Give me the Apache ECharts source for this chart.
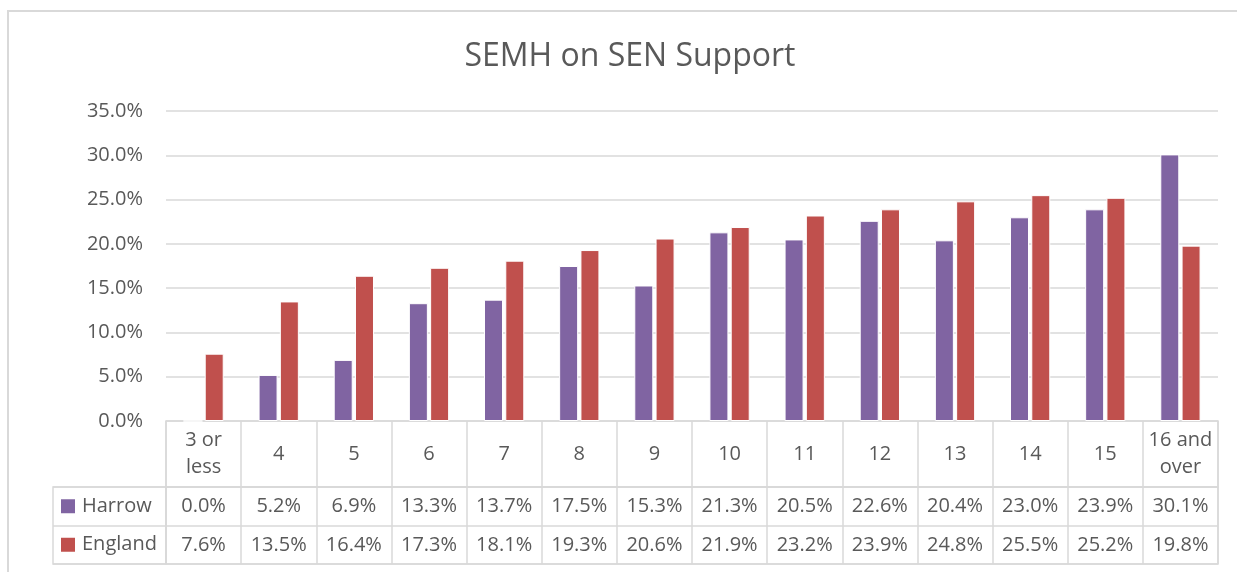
<!DOCTYPE html>
<html><head><meta charset="utf-8">
<script src="https://cdn.jsdelivr.net/npm/echarts@6/dist/echarts.min.js"></script>
<style>html,body{margin:0;padding:0;background:#fff}#c{width:1237px;height:572px}</style>
</head><body><div id="c"></div>
<script>
const categories = ['3 or\nless','4','5','6','7','8','9','10','11','12','13','14','15','16 and\nover'];
const seriesNames = ['Harrow','England'];
const harrow = [0.0,5.2,6.9,13.3,13.7,17.5,15.3,21.3,20.5,22.6,20.4,23.0,23.9,30.1];
const england = [7.6,13.5,16.4,17.3,18.1,19.3,20.6,21.9,23.2,23.9,24.8,25.5,25.2,19.8];
const yMin = 0, yMax = 35, yStep = 5;

const colors = {Harrow:'#8064A2', England:'#C0504D'};
const txt = '#595959', line = '#d9d9d9', ff = 'Open Sans';
const fs = 20;
const pct = v => v.toFixed(1) + '%';
const L = 166, R = 19;
const tableLine = {show:true, lineStyle:{color:line, width:1.5}};
const none = {show:false};

const chart = echarts.init(document.getElementById('c'));
chart.setOption({
  animation:false,
  textStyle:{fontFamily:ff},
  title:{text:'SEMH on SEN Support', left:625, textAlign:'center', top:36,
    textStyle:{fontFamily:ff, fontSize:32, fontWeight:'normal', color:txt}},
  graphic:[{type:'rect', z:-10, shape:{x:8, y:11, width:1260, height:620},
    style:{fill:'none', stroke:line, lineWidth:2}}],
  grid:[
    {left:L, right:R, top:111, height:310},
    {left:L, right:R, top:421, height:66, show:true, borderColor:line, borderWidth:1.5},
    {left:L, right:R, top:487, height:77, show:true, borderColor:line, borderWidth:1.5},
    {left:53, width:113, top:487, height:77, show:true, borderColor:line, borderWidth:1.5}
  ],
  xAxis:[
    {gridIndex:0, type:'category', data:categories, show:false},
    {gridIndex:1, type:'category', data:categories, position:'bottom',
      axisLine:none, axisTick:none, splitLine:tableLine,
      axisLabel:{interval:0, margin:-33, verticalAlign:'middle', fontSize:fs, lineHeight:27, color:txt, fontFamily:ff}},
    {gridIndex:2, type:'category', data:categories, position:'top',
      axisLine:none, axisTick:none, splitLine:tableLine,
      axisLabel:{interval:0, margin:-19.5, verticalAlign:'middle', fontSize:fs, color:txt, fontFamily:ff,
        formatter:(v,i)=>pct(harrow[i])}},
    {gridIndex:2, type:'category', data:categories, position:'bottom',
      axisLine:none, axisTick:none, splitLine:none,
      axisLabel:{interval:0, margin:-19, verticalAlign:'middle', fontSize:fs, color:txt, fontFamily:ff,
        formatter:(v,i)=>pct(england[i])}},
    {gridIndex:3, type:'value', show:false}
  ],
  yAxis:[
    {gridIndex:0, type:'value', min:yMin, max:yMax, interval:yStep,
      axisLine:none, axisTick:none, splitLine:tableLine,
      axisLabel:{formatter:pct, margin:23, fontSize:fs, color:txt, fontFamily:ff}},
    {gridIndex:1, type:'value', show:false},
    {gridIndex:2, type:'category', data:seriesNames, inverse:true,
      axisLine:none, axisTick:none, axisLabel:none, splitLine:tableLine},
    {gridIndex:3, type:'category', data:seriesNames, inverse:true,
      axisLine:none, axisTick:none, splitLine:tableLine,
      axisLabel:{inside:true, margin:8, align:'left', fontSize:fs, color:txt, fontFamily:ff,
        formatter:v=>'{'+v+'|}{g|}'+v,
        rich:{
          Harrow:{width:14, height:14, backgroundColor:colors.Harrow},
          England:{width:14, height:14, backgroundColor:colors.England},
          g:{width:7}
        }}}
  ],
  series:[
    {name:'Harrow', type:'bar', xAxisIndex:0, yAxisIndex:0, data:harrow, barWidth:19, barGap:'12%',
      itemStyle:{color:colors.Harrow, borderColor:'#fff', borderWidth:1}},
    {name:'England', type:'bar', xAxisIndex:0, yAxisIndex:0, data:england, barWidth:19, barGap:'12%',
      itemStyle:{color:colors.England, borderColor:'#fff', borderWidth:1}}
  ]
});
</script></body></html>
